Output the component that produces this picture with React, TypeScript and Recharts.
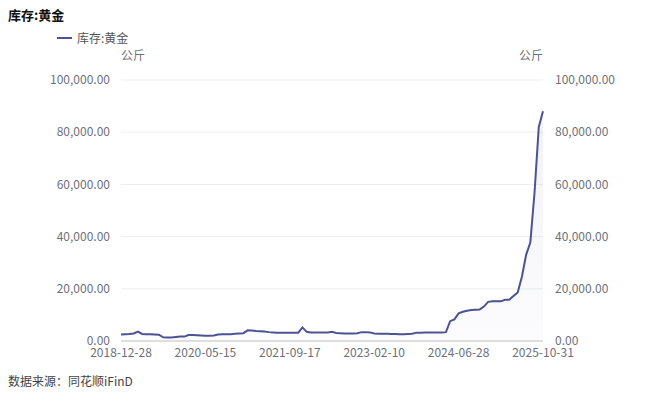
import {
  Area,
  CartesianGrid,
  ComposedChart,
  Line,
  XAxis,
  YAxis,
} from "recharts";

// tick labels on the x axis (one every 20 points)
const dateLabels = [
  "2018-12-28",
  "2020-05-15",
  "2021-09-17",
  "2023-02-10",
  "2024-06-28",
  "2025-10-31",
];

// 库存:黄金, 千公斤
const goldStockK = [
  2.5, 2.6, 2.7, 2.9, 3.6, 2.7, 2.6, 2.6, 2.5, 2.4,
  1.4, 1.3, 1.3, 1.5, 1.7, 1.7, 2.3, 2.3, 2.2, 2.1,
  2.0, 2.0, 2.1, 2.5, 2.6, 2.6, 2.6, 2.8, 2.9, 3.0,
  4.1, 4.0, 3.8, 3.7, 3.6, 3.4, 3.3, 3.2, 3.2, 3.2,
  3.2, 3.2, 3.2, 5.2, 3.5, 3.3, 3.3, 3.3, 3.3, 3.3,
  3.5, 3.1, 3.0, 2.9, 2.9, 2.9, 3.0, 3.4, 3.4, 3.3,
  2.9, 2.8, 2.8, 2.8, 2.7, 2.7, 2.6, 2.6, 2.7, 2.8,
  3.2, 3.2, 3.3, 3.3, 3.3, 3.3, 3.3, 3.4, 7.6, 8.3,
  10.6, 11.2, 11.6, 11.9, 12.0, 12.1, 13.2, 15.0, 15.2, 15.2,
  15.2, 15.8, 15.8, 17.2, 18.6, 24.6, 33.0, 37.8, 57.0, 82.0,
  88.0,
];

const yTicks = [0, 20000, 40000, 60000, 80000, 100000];
const xTicks = dateLabels.map((_, i) => i * 20);

const data = goldStockK.map((v, i) => ({ idx: i, value: v * 1000 }));

const FONT = '"Noto Sans CJK SC", "Noto Sans", sans-serif';
const LINE = "#4b5394";
const TICK = "#6e7079";

const fmt = (v: number) =>
  v.toLocaleString("en-US", { minimumFractionDigits: 2, maximumFractionDigits: 2 });

export default function App() {
  return (
    <div
      style={{
        position: "fixed",
        left: 0,
        top: 0,
        width: 660,
        height: 394,
        background: "#fff",
        fontFamily: FONT,
        overflow: "hidden",
      }}
    >
      <div style={{ position: "absolute", left: 8, top: 5, fontSize: 13, fontWeight: 700, color: "#111" }}>
        库存:黄金
      </div>
      <div style={{ position: "absolute", left: 57, top: 29, display: "flex", alignItems: "center", fontSize: 12, color: "#555" }}>
        <span style={{ display: "inline-block", width: 15, height: 2, background: LINE, marginRight: 5 }} />
        库存:黄金
      </div>
      <div style={{ position: "absolute", left: 121, top: 46, fontSize: 12, color: TICK }}>公斤</div>
      <div style={{ position: "absolute", left: 519, top: 46, fontSize: 12, color: TICK }}>公斤</div>

      <div style={{ position: "absolute", left: 0, top: 0 }}>
        <ComposedChart width={660} height={394} data={data} margin={{ top: 80, right: 0, bottom: 29, left: 0 }}>
          <defs>
            <linearGradient id="goldFill" x1="0" y1="0" x2="0" y2="1">
              <stop offset="0%" stopColor={LINE} stopOpacity={0.12} />
              <stop offset="100%" stopColor={LINE} stopOpacity={0.03} />
            </linearGradient>
          </defs>
          <CartesianGrid vertical={false} stroke="#eeeeee" yAxisId="left" />
          <XAxis
            dataKey="idx"
            type="number"
            domain={[0, goldStockK.length - 1]}
            ticks={xTicks}
            tickFormatter={(v: number) => dateLabels[v / 20] ?? ""}
            interval={0}
            tickLine={false}
            axisLine={{ stroke: "#c8c8c8" }}
            tick={{ fontSize: 12, fill: TICK, fontFamily: FONT }}
            tickSize={0}
            tickMargin={7}
            height={24}
          />
          <YAxis
            yAxisId="left"
            orientation="left"
            domain={[0, 100000]}
            ticks={yTicks}
            tickFormatter={fmt}
            axisLine={false}
            tickLine={false}
            tickSize={0}
            tickMargin={11}
            width={121}
            tick={{ fontSize: 12, fill: TICK, fontFamily: FONT }}
          />
          <YAxis
            yAxisId="right"
            orientation="right"
            domain={[0, 100000]}
            ticks={yTicks}
            tickFormatter={fmt}
            axisLine={false}
            tickLine={false}
            tickSize={0}
            tickMargin={12}
            width={117}
            tick={{ fontSize: 12, fill: TICK, fontFamily: FONT }}
          />
          <Area
            yAxisId="left"
            type="linear"
            dataKey="value"
            stroke={LINE}
            strokeWidth={2}
            fill="url(#goldFill)"
            dot={false}
            activeDot={false}
            isAnimationActive={false}
          />
          {/* same series on the right axis, drawn invisibly so that axis shows */}
          <Line
            yAxisId="right"
            type="linear"
            dataKey="value"
            stroke="none"
            dot={false}
            activeDot={false}
            legendType="none"
            isAnimationActive={false}
          />
        </ComposedChart>
      </div>

      <div style={{ position: "absolute", left: 8, top: 372, fontSize: 12, color: "#444" }}>
        数据来源：同花顺iFinD
      </div>
    </div>
  );
}
